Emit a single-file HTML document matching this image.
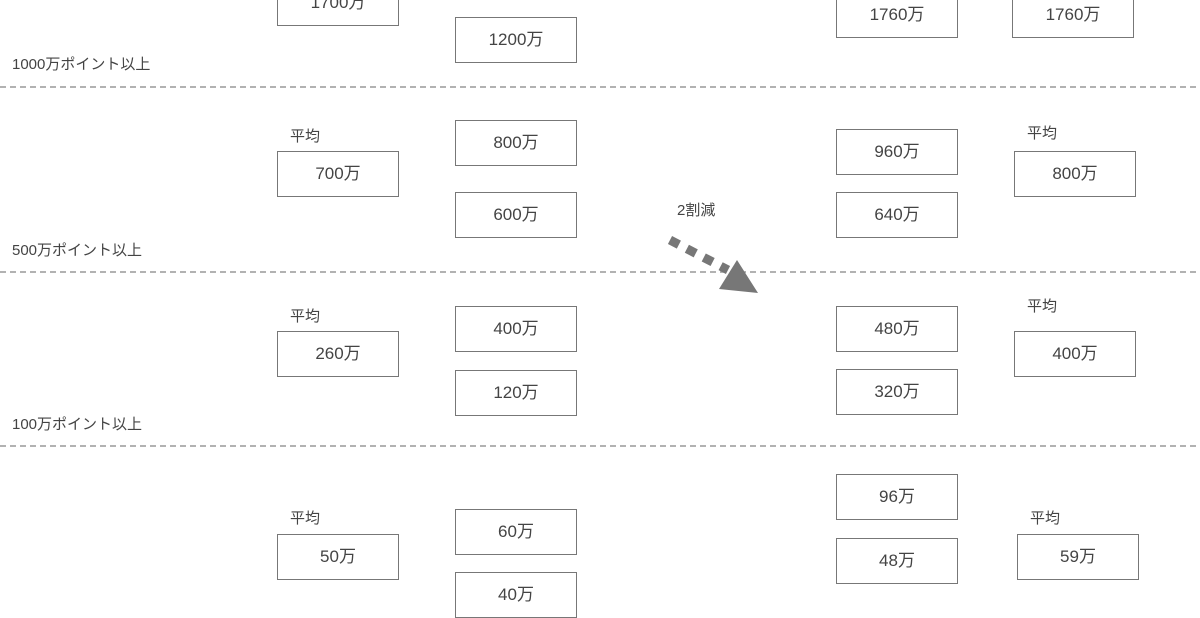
<!DOCTYPE html>
<html><head><meta charset="utf-8"><style>
body{margin:0;width:1200px;height:600px;overflow:hidden;background:#fff;font-family:"Liberation Sans","Noto Sans CJK JP",sans-serif;color:#444;position:relative}
.b{position:absolute;width:120px;height:44px;border:1.5px solid #777;box-sizing:content-box;display:flex;align-items:center;justify-content:center;font-size:17px;color:#444;background:#fff;line-height:1;padding-bottom:2px;height:42px}
.t{position:absolute;font-size:15px;color:#444;white-space:nowrap}
</style></head><body>
<svg style="position:absolute;left:0;top:0" width="1200" height="600">
<g stroke="#999" stroke-width="1.5" stroke-dasharray="6,4">
<line x1="0" y1="87" x2="1200" y2="87"/>
<line x1="0" y1="272" x2="1200" y2="272"/>
<line x1="0" y1="446" x2="1200" y2="446"/>
</g>
</svg>
<div class="b" style="left:277px;top:-20px">1700万</div>
<div class="b" style="left:455px;top:17px">1200万</div>
<div class="b" style="left:836px;top:-8px">1760万</div>
<div class="b" style="left:1012px;top:-8px">1760万</div>
<div class="t" style="left:12px;top:53px">1000万ポイント以上</div>

<div class="t" style="left:290px;top:125px">平均</div>
<div class="b" style="left:277px;top:151px">700万</div>
<div class="b" style="left:455px;top:120px">800万</div>
<div class="b" style="left:455px;top:192px">600万</div>
<div class="b" style="left:836px;top:129px">960万</div>
<div class="b" style="left:836px;top:192px">640万</div>
<div class="t" style="left:1027px;top:122px">平均</div>
<div class="b" style="left:1014px;top:151px">800万</div>
<div class="t" style="left:677px;top:199px">2割減</div>
<div class="t" style="left:12px;top:239px">500万ポイント以上</div>

<div class="t" style="left:290px;top:305px">平均</div>
<div class="b" style="left:277px;top:331px">260万</div>
<div class="b" style="left:455px;top:306px">400万</div>
<div class="b" style="left:455px;top:370px">120万</div>
<div class="b" style="left:836px;top:306px">480万</div>
<div class="b" style="left:836px;top:369px">320万</div>
<div class="t" style="left:1027px;top:295px">平均</div>
<div class="b" style="left:1014px;top:331px">400万</div>
<div class="t" style="left:12px;top:413px">100万ポイント以上</div>

<div class="t" style="left:290px;top:507px">平均</div>
<div class="b" style="left:277px;top:534px">50万</div>
<div class="b" style="left:455px;top:509px">60万</div>
<div class="b" style="left:455px;top:572px">40万</div>
<div class="b" style="left:836px;top:474px">96万</div>
<div class="b" style="left:836px;top:538px">48万</div>
<div class="t" style="left:1030px;top:507px">平均</div>
<div class="b" style="left:1017px;top:534px">59万</div>

<svg style="position:absolute;left:0;top:0" width="1200" height="600">
<line x1="670" y1="240" x2="728" y2="270" stroke="#777" stroke-width="9" stroke-dasharray="10,9"/>
<polygon points="737,260 719,289 758,293" fill="#777"/>
</svg>
</body></html>
